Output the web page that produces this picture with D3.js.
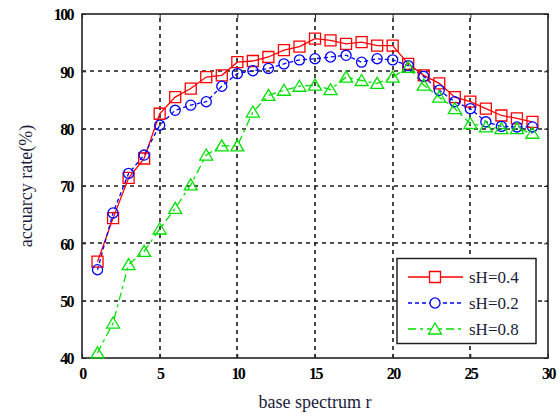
<!DOCTYPE html>
<html>
<head>
<meta charset="utf-8">
<script src="https://cdn.jsdelivr.net/npm/d3@7"></script>
<style>
  body { margin: 0; background: #fff; }
  svg { display: block; }
</style>
</head>
<body>
<svg width="560" height="416"></svg>
<script>
const width = 560, height = 416;
const margin = {left: 82, top: 14, right: 12, bottom: 58};

// base spectrum r
const rValues = d3.range(1, 30);

// accuracy rate (%) for each sH
const sH04 = [56.8, 64.4, 71.4, 74.8, 82.6, 85.5, 87.0, 89.0, 89.3, 91.6,
    91.8, 92.5, 93.7, 94.3, 95.7, 95.4, 94.8, 95.1, 94.5, 94.5,
    91.3, 89.3, 87.9, 85.5, 84.7, 83.5, 82.3, 81.8, 81.2];
const sH02 = [55.4, 65.3, 72.2, 75.4, 80.6, 83.2, 84.1, 84.7, 87.4, 89.6,
    90.1, 90.5, 91.3, 92.0, 92.2, 92.5, 92.8, 91.6, 92.2, 92.0,
    91.0, 89.1, 86.7, 84.7, 83.5, 81.2, 80.4, 80.3, 80.3];
const sH08 = [40.9, 46.1, 56.3, 58.6, 62.5, 66.1, 70.2, 75.4, 77.0, 77.0,
    82.9, 85.8, 86.7, 87.4, 87.6, 86.8, 89.0, 88.4, 87.9, 89.0,
    90.7, 87.6, 85.5, 83.5, 80.9, 80.3, 80.0, 80.0, 79.2];

const xTicks = [0, 5, 10, 15, 20, 25, 30];
const yTicks = [40, 50, 60, 70, 80, 90, 100];

const seriesNames = ["sH=0.4", "sH=0.2", "sH=0.8"];
const seriesColors = ["#ff0000", "#0000ff", "#00e000"];
const seriesDash = [null, "4,3", "8,4,3,4"];
const seriesMarker = ["square", "circle", "triangle"];

const series = seriesNames.map((name, i) => ({
    name: name,
    color: seriesColors[i],
    dash: seriesDash[i],
    marker: seriesMarker[i],
    values: [sH04, sH02, sH08][i].map((v, j) => ({r: rValues[j], acc: v}))
}));

const svg = d3.select("svg");

const x = d3.scaleLinear()
    .domain([0, 30])
    .range([margin.left, width - margin.right]);

const y = d3.scaleLinear()
    .domain([40, 100])
    .range([height - margin.bottom, margin.top]);

// grid lines
svg.append("g")
    .selectAll("line")
    .data(xTicks.slice(1, -1))
    .join("line")
        .attr("x1", d => Math.round(x(d)))
        .attr("x2", d => Math.round(x(d)))
        .attr("y1", y(40))
        .attr("y2", y(100))
        .attr("stroke", "#1a1a1a")
        .attr("stroke-width", 1.6)
        .attr("stroke-dasharray", "4,4");

svg.append("g")
    .selectAll("line")
    .data(yTicks.slice(1, -1))
    .join("line")
        .attr("x1", x(0))
        .attr("x2", x(30))
        .attr("y1", d => Math.round(y(d)))
        .attr("y2", d => Math.round(y(d)))
        .attr("stroke", "#1a1a1a")
        .attr("stroke-width", 1.6)
        .attr("stroke-dasharray", "4,4");

// axes (Matlab-like box with inward ticks)
const tickFont = g => g.selectAll("text")
    .style("font-family", "'Liberation Serif', 'DejaVu Serif', serif")
    .style("font-weight", "bold")
    .style("font-size", "16px")
    .style("letter-spacing", "-1.6px")
    .attr("fill", "#000");

svg.append("g")
    .attr("transform", `translate(0, ${y(40)})`)
    .call(d3.axisBottom(x).tickValues(xTicks).tickSize(-4).tickPadding(10))
    .call(g => g.select(".domain").remove())
    .call(g => g.selectAll("line").attr("stroke", "#222"))
    .call(tickFont);

svg.append("g")
    .attr("transform", `translate(${x(0)}, 0)`)
    .call(d3.axisLeft(y).tickValues(yTicks).tickSize(-4).tickPadding(9))
    .call(g => g.select(".domain").remove())
    .call(g => g.selectAll("line").attr("stroke", "#222"))
    .call(tickFont)
    .call(g => g.selectAll("text").attr("dy", "0.36em"));

svg.append("g")
    .attr("transform", `translate(0, ${y(100)})`)
    .call(d3.axisTop(x).tickValues(xTicks).tickSize(-4).tickFormat(""))
    .call(g => g.select(".domain").remove())
    .call(g => g.selectAll("line").attr("stroke", "#222"));

svg.append("g")
    .attr("transform", `translate(${x(30)}, 0)`)
    .call(d3.axisRight(y).tickValues(yTicks).tickSize(-4).tickFormat(""))
    .call(g => g.select(".domain").remove())
    .call(g => g.selectAll("line").attr("stroke", "#222"));

svg.append("rect")
    .attr("x", x(0))
    .attr("y", y(100))
    .attr("width", x(30) - x(0))
    .attr("height", y(40) - y(100))
    .attr("fill", "none")
    .attr("stroke", "#222")
    .attr("stroke-width", 1.6);

// lines
const line = d3.line()
    .x(d => x(d.r))
    .y(d => y(d.acc));

svg.append("g")
    .selectAll("path")
    .data(series)
    .join("path")
        .attr("d", d => line(d.values))
        .attr("fill", "none")
        .attr("stroke", d => d.color)
        .attr("stroke-width", 1.3)
        .attr("stroke-dasharray", d => d.dash);

// markers
const symbolPath = {
    square: "M-5.5,-5.5H5.5V5.5H-5.5Z",
    circle: d3.symbol(d3.symbolCircle, 80)(),
    triangle: "M0,-6L6.5,5H-6.5Z"
};

series.forEach(s => {
    svg.append("g")
        .selectAll("path")
        .data(s.values)
        .join("path")
            .attr("transform", d => `translate(${x(d.r)}, ${y(d.acc)})`)
            .attr("d", symbolPath[s.marker])
            .attr("fill", "none")
            .attr("stroke", s.color)
            .attr("stroke-width", 1.3);
});

// legend
const legend = svg.append("g");
legend.append("rect")
    .attr("x", 397)
    .attr("y", 258.5)
    .attr("width", 139)
    .attr("height", 85)
    .attr("fill", "#fff")
    .attr("stroke", "#222")
    .attr("stroke-width", 1.5);

const legendRow = legend.selectAll("g.row")
    .data(series)
    .join("g")
        .attr("class", "row")
        .attr("transform", (d, i) => `translate(0, ${277 + i * 26})`);

legendRow.append("line")
    .attr("x1", 408)
    .attr("x2", 463)
    .attr("stroke", d => d.color)
    .attr("stroke-width", 1.3)
    .attr("stroke-dasharray", d => d.dash);

legendRow.append("path")
    .attr("transform", "translate(435, 0)")
    .attr("d", d => symbolPath[d.marker])
    .attr("fill", "#fff")
    .attr("stroke", d => d.color)
    .attr("stroke-width", 1.3);

legendRow.append("text")
    .attr("x", 469)
    .attr("y", 6)
    .text(d => d.name)
    .style("font-family", "'Liberation Serif', serif")
    .style("font-size", "17px")
    .attr("fill", "#1c1c3a");

// axis titles
svg.append("text")
    .attr("x", (x(0) + x(30)) / 2)
    .attr("y", 408)
    .attr("text-anchor", "middle")
    .text("base spectrum r")
    .style("font-family", "'Liberation Serif', serif")
    .style("font-size", "18px")
    .attr("fill", "#1c1c3a");

svg.append("text")
    .attr("transform", `translate(32, ${(y(40) + y(100)) / 2}) rotate(-90)`)
    .attr("text-anchor", "middle")
    .text("accuarcy rate(%)")
    .style("font-family", "'Liberation Serif', serif")
    .style("font-size", "18px")
    .attr("fill", "#1c1c3a");
</script>
</body>
</html>
